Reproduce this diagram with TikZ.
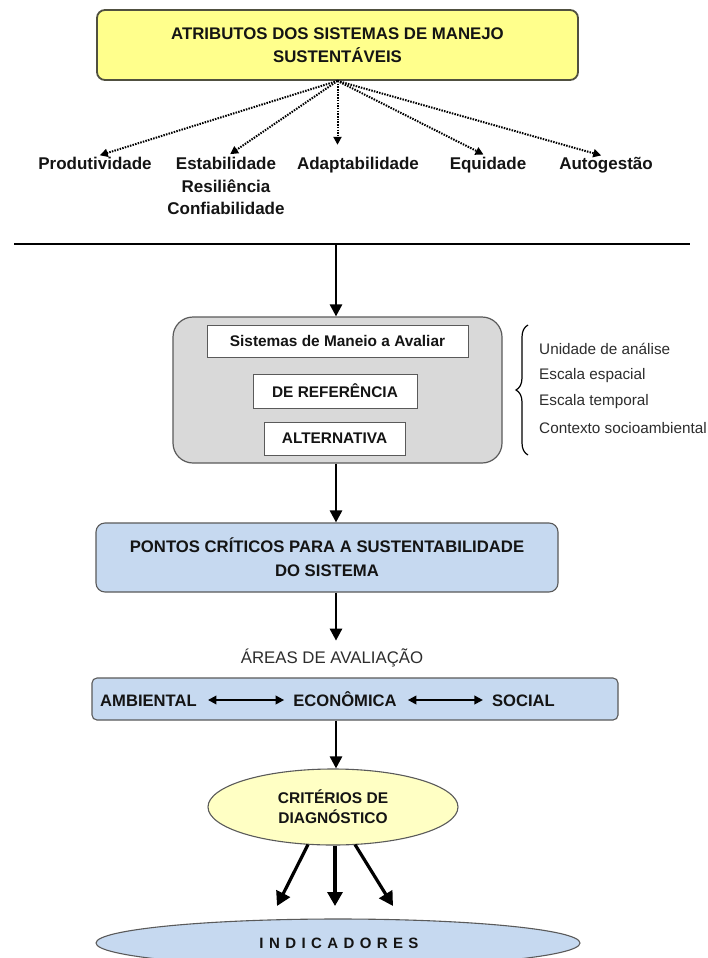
\documentclass[tikz,border=0pt]{standalone}
\usepackage{fontspec}
\setmainfont{Liberation Sans}
\usetikzlibrary{arrows.meta,shapes.geometric,decorations.pathreplacing,calc}

\definecolor{boxyellow}{RGB}{255,255,140}
\definecolor{paleyellow}{RGB}{255,255,196}
\definecolor{paleblue}{RGB}{198,217,240}
\definecolor{panelgray}{RGB}{217,217,217}
\definecolor{edgegray}{RGB}{90,90,90}
\definecolor{olivegray}{RGB}{80,80,64}
\definecolor{inkgray}{RGB}{45,45,45}

% letter-spaced caption
\newcommand{\ls}{\kern5.4pt}

\begin{document}
\begin{tikzpicture}[x=1pt,y=-1pt,
  boldtxt/.style={font=\bfseries\fontsize{#1}{23.5}\selectfont, text=black!92, inner sep=0pt, align=center},
  boldtxt/.default=16.8,
  plaintxt/.style={font=\fontsize{#1}{20}\selectfont, text=inkgray, inner sep=0pt, align=left},
  plaintxt/.default=15.3,
  attrfont/.style={boldtxt=17, font=\bfseries\fontsize{17}{22.5}\selectfont},
  attr/.style={attrfont, text height=12.5pt, text depth=3.5pt},
  areatxt/.style={boldtxt=16.6, text height=12pt, text depth=0pt},
  thickarrow/.style={line width=2.6pt, -{Triangle[length=12pt,width=12pt]}},
  dotarrow/.style={line width=2pt, dash pattern=on 1.5pt off 1.2pt, -{Triangle[length=8pt,width=8pt]}, shorten >=5pt},
  dblarrow/.style={line width=2pt, {Triangle[length=8.5pt,width=8.5pt]}-{Triangle[length=8.5pt,width=8.5pt]}},
  fatarrow/.style={line width=3.2pt, -{Triangle[length=14pt,width=15pt]}},
  whitebox/.style={draw=edgegray, line width=0.9pt, fill=white, inner sep=0pt},
]
% page area
\path[use as bounding box, fill=white] (0,0) rectangle (707,958);

% title box
\node[draw=olivegray, line width=1.8pt, fill=boxyellow, rounded corners=8pt,
      minimum width=481pt, minimum height=70pt, boldtxt] (title) at (337.5,45)
      {ATRIBUTOS DOS SISTEMAS DE MANEJO\\SUSTENTÁVEIS};

% attributes
\node[attr] (prod) at (95,165) {Produtividade};
\node[attrfont, anchor=north] (estab) at (226,157) {Estabilidade\\Resiliência\\Confiabilidade};
\node[attr] (adapt) at (358,165) {Adaptabilidade};
\node[attr] (equid) at (488,165) {Equidade};
\node[attr] (autog) at (606,165) {Autogestão};

\draw[dotarrow] (title.south) -- (prod.north);
\draw[dotarrow] (title.south) -- (estab.north);
\draw[dotarrow, shorten >=12pt] (title.south) -- (title.south |- adapt.north);
\draw[dotarrow] (title.south) -- (equid.north);
\draw[dotarrow] (title.south) -- (autog.north);

% separator line
\coordinate (sepL) at (14,244);
\coordinate (sepR) at (690,244);
\coordinate (sepM) at (336,244);
\draw[line width=1.6pt] (sepL) -- (sepR);

% systems panel
\node[draw=edgegray, line width=1.2pt, fill=panelgray, rounded corners=20pt,
      minimum width=329pt, minimum height=146pt] (panel) at (337.5,390) {};
\node[whitebox, minimum width=261pt, minimum height=32pt, boldtxt=15.4] (sma) at (337.5,341) {Sistemas de Maneio a Avaliar};
\node[whitebox, minimum width=164pt, minimum height=34pt, boldtxt=15.4] (ref) at (335,391) {DE REFERÊNCIA};
\node[whitebox, minimum width=141pt, minimum height=33pt, boldtxt=15.4] (alt) at (334.5,438.5) {ALTERNATIVA};

\draw[thickarrow] (sepM) -- (sepM |- panel.north);

% scope brace and list
\coordinate (brT) at (528,325);
\coordinate (brB) at (528,455);
\draw[line width=1.2pt, decorate, decoration={brace, amplitude=12pt}] (brB) -- (brT);
\node[plaintxt, anchor=west] (u1) at (539,349) {Unidade de análise};
\node[plaintxt, anchor=west] (u2) at (539,375.5) {Escala espacial};
\node[plaintxt, anchor=west] (u3) at (539,402) {Escala temporal};
\node[plaintxt, anchor=west] (u4) at (539,428.5) {Contexto socioambiental};

% critical points
\node[draw=edgegray, line width=1.1pt, fill=paleblue, rounded corners=9pt,
      minimum width=462pt, minimum height=69pt, boldtxt=16.7, font=\bfseries\fontsize{16.7}{24}\selectfont] (pc) at (327,557.5)
      {PONTOS CRÍTICOS PARA A SUSTENTABILIDADE\\DO SISTEMA};
\draw[thickarrow] (sepM |- panel.south) -- (sepM |- pc.north);

% evaluation areas
\node[font=\fontsize{16.8}{20}\selectfont, text=inkgray, inner sep=0pt] (areas) at (332,658) {ÁREAS DE AVALIAÇÃO};
\draw[thickarrow, shorten >=8pt] (sepM |- pc.south) -- (sepM |- areas.north);

\node[draw=edgegray, line width=1.1pt, fill=paleblue, rounded corners=5pt,
      minimum width=526pt, minimum height=42pt] (band) at (355,699) {};
\node[areatxt] (amb) at (148.5,700) {AMBIENTAL};
\node[areatxt] (eco) at (345,700) {ECONÔMICA};
\node[areatxt] (soc) at (523.5,700) {SOCIAL};
\draw[dblarrow, shorten <=11pt, shorten >=9pt] (amb.east) -- (eco.west);
\draw[dblarrow, shorten <=11pt, shorten >=9pt] (eco.east) -- (soc.west);

% diagnostic criteria
\node[ellipse, draw=edgegray, line width=1.1pt, fill=paleyellow,
      minimum width=250pt, minimum height=76pt, inner sep=0pt,
      font=\bfseries\fontsize{15.5}{20}\selectfont, text=black!92, align=center] (crit) at (333,807)
      {CRITÉRIOS DE\\DIAGNÓSTICO};
\draw[thickarrow] (sepM |- band.south) -- (sepM |- crit.north);

% indicators
\node[ellipse, draw=edgegray, line width=1.1pt, fill=paleblue,
      minimum width=484pt, minimum height=48pt, inner sep=0pt] (ind) at (338,943) {};
\node[font=\bfseries\fontsize{15}{16}\selectfont, text=black!92, inner sep=0pt] (indtxt) at (339,943)
      {I\ls N\ls D\ls I\ls C\ls A\ls D\ls O\ls R\ls E\ls S};

\coordinate (tipL) at (277,906);
\coordinate (tipM) at (335,906);
\coordinate (tipR) at (393,906);
\draw[fatarrow] ($(crit.south)+(-25,-1)$) -- (tipL);
\draw[fatarrow] ($(crit.south)+(2,0)$) -- (tipM);
\draw[fatarrow] ($(crit.south)+(22,-1)$) -- (tipR);
\end{tikzpicture}
\end{document}
